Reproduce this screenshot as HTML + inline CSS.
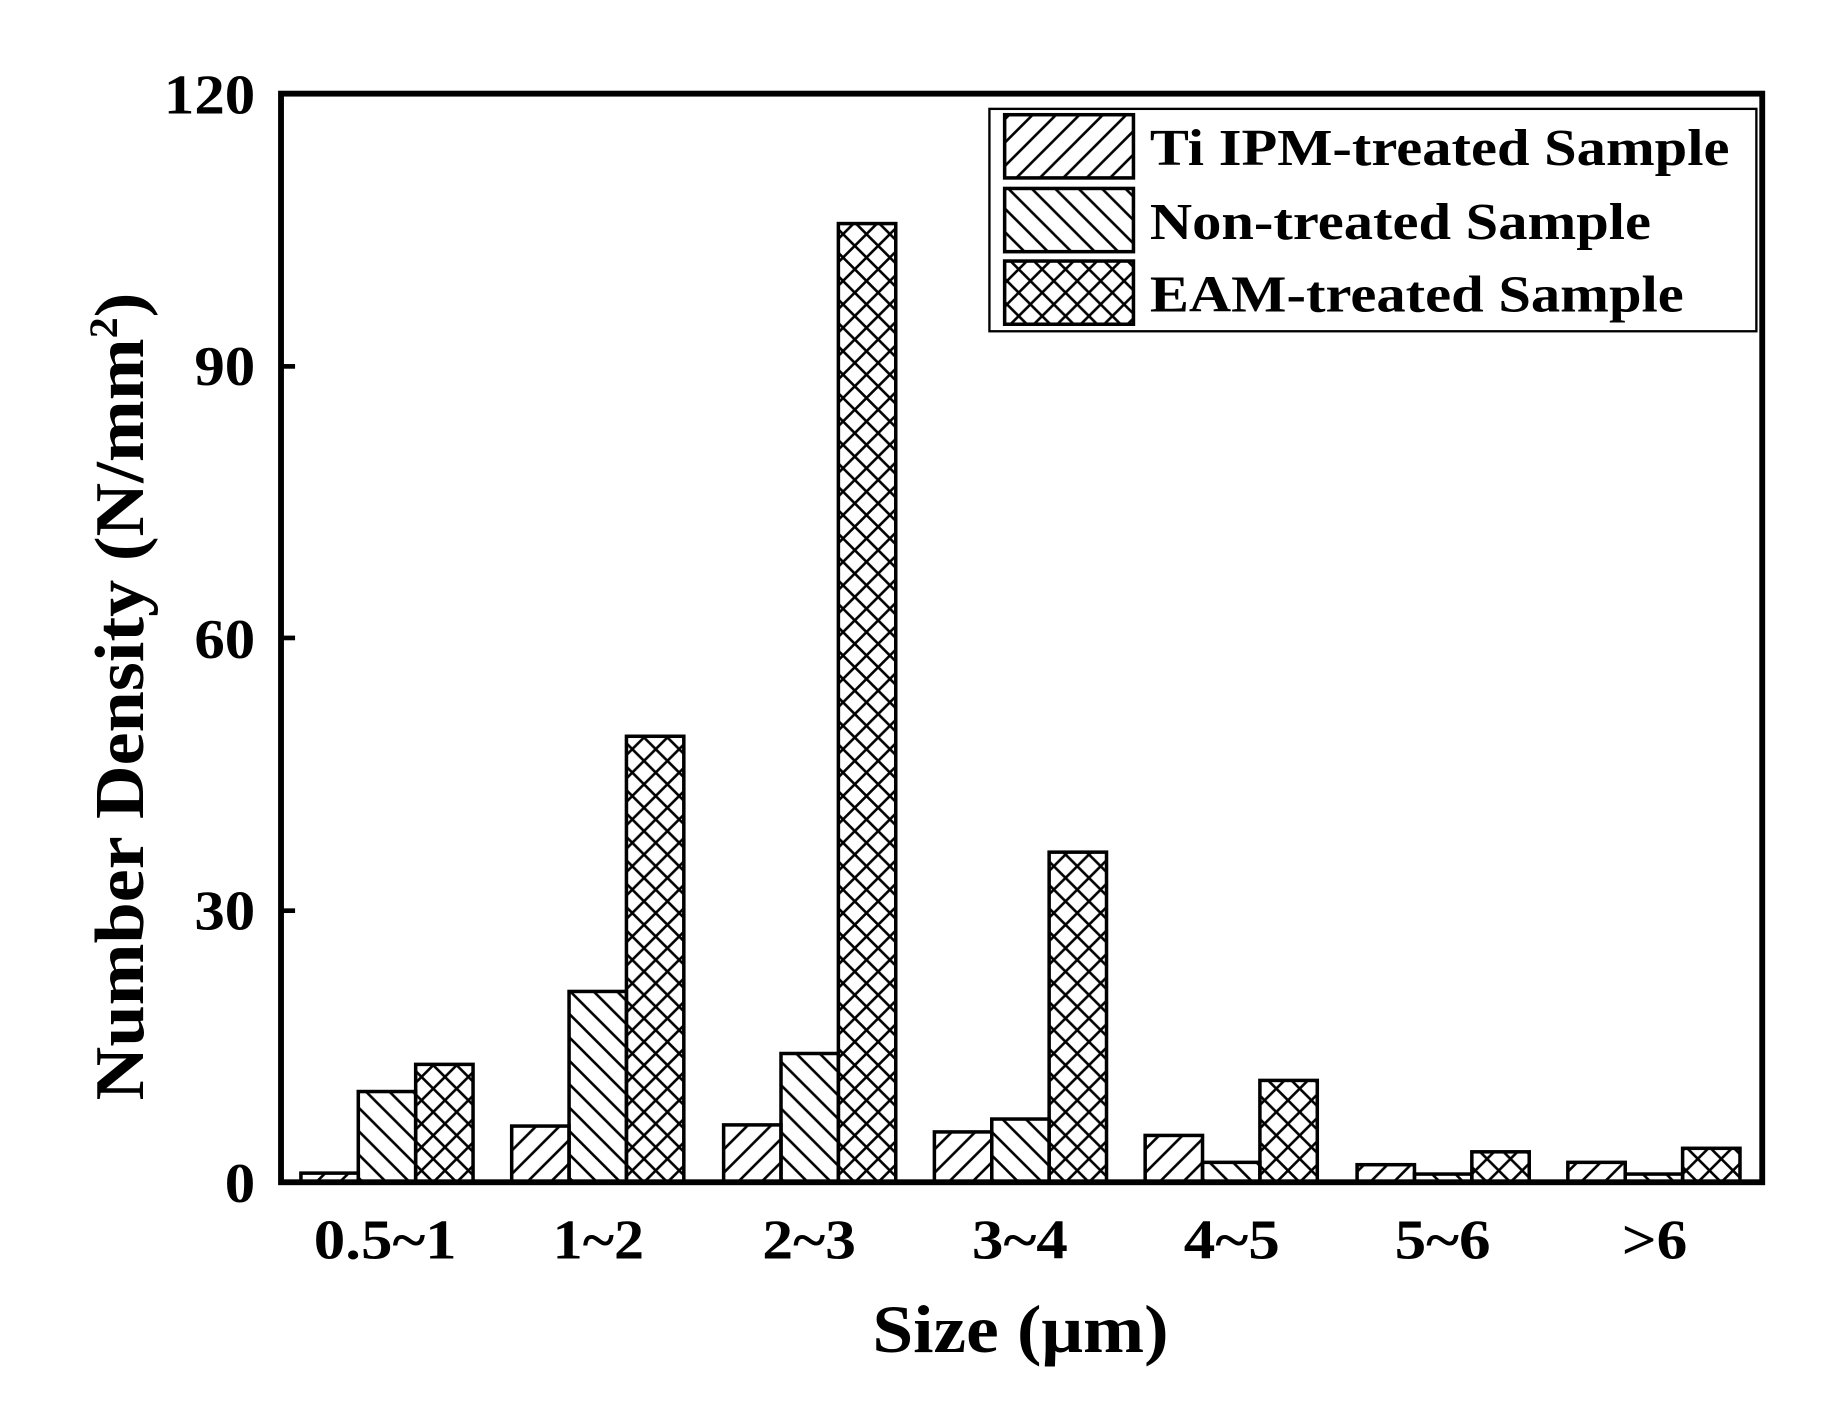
<!DOCTYPE html>
<html><head><meta charset="utf-8"><style>html,body{margin:0;padding:0;background:#fff}svg{display:block}</style></head><body>
<svg width="1836" height="1407" viewBox="0 0 1568 1202" preserveAspectRatio="none" xmlns="http://www.w3.org/2000/svg" font-family="Liberation Serif, serif" font-weight="bold">
<defs>
<pattern id="p1" patternUnits="userSpaceOnUse" width="20" height="20"><path d="M-5,5 L5,-5 M0,20 L20,0 M15,25 L25,15" stroke="#000" stroke-width="2.2"/></pattern>
<pattern id="p2" patternUnits="userSpaceOnUse" width="20" height="20"><path d="M-5,15 L5,25 M0,0 L20,20 M15,-5 L25,5" stroke="#000" stroke-width="2.2"/></pattern>
<pattern id="p3" patternUnits="userSpaceOnUse" width="20" height="20"><path d="M-5,5 L5,-5 M0,20 L20,0 M15,25 L25,15 M-5,15 L5,25 M0,0 L20,20 M15,-5 L25,5" stroke="#000" stroke-width="2.2"/></pattern>
</defs>
<rect width="1568" height="1202" fill="#fff"/>
<g stroke="#000" stroke-width="3">
<rect x="257" y="1002.2" width="49" height="7.8" fill="url(#p1)"/>
<rect x="306" y="932.5" width="49" height="77.5" fill="url(#p2)"/>
<rect x="355" y="909.3" width="49" height="100.7" fill="url(#p3)"/>

<rect x="437" y="962" width="49" height="48" fill="url(#p1)"/>
<rect x="486" y="847" width="49" height="163" fill="url(#p2)"/>
<rect x="535" y="629" width="49" height="381" fill="url(#p3)"/>

<rect x="618" y="961" width="49" height="49" fill="url(#p1)"/>
<rect x="667" y="900" width="49" height="110" fill="url(#p2)"/>
<rect x="716" y="191" width="49" height="819" fill="url(#p3)"/>

<rect x="798" y="967" width="49" height="43" fill="url(#p1)"/>
<rect x="847" y="956" width="49" height="54" fill="url(#p2)"/>
<rect x="896" y="728" width="49" height="282" fill="url(#p3)"/>

<rect x="978" y="970" width="49" height="40" fill="url(#p1)"/>
<rect x="1027" y="993" width="49" height="17" fill="url(#p2)"/>
<rect x="1076" y="923" width="49" height="87" fill="url(#p3)"/>

<rect x="1159" y="995" width="49" height="15" fill="url(#p1)"/>
<rect x="1208" y="1003" width="49" height="7" fill="url(#p2)"/>
<rect x="1257" y="984" width="49" height="26" fill="url(#p3)"/>

<rect x="1339" y="993" width="49" height="17" fill="url(#p1)"/>
<rect x="1388" y="1003" width="49" height="7" fill="url(#p2)"/>
<rect x="1437" y="981" width="49" height="29" fill="url(#p3)"/>
</g>
<rect x="240" y="80" width="1265" height="930" fill="none" stroke="#000" stroke-width="5"/>
<g stroke="#000" stroke-width="4">
<line x1="240" y1="313" x2="252" y2="313"/><line x1="240" y1="545" x2="252" y2="545"/><line x1="240" y1="778" x2="252" y2="778"/>
</g>
<g font-size="48" text-anchor="end">
<text x="218" y="97" textLength="78" lengthAdjust="spacingAndGlyphs">120</text><text x="218" y="329" textLength="52" lengthAdjust="spacingAndGlyphs">90</text><text x="218" y="562" textLength="52" lengthAdjust="spacingAndGlyphs">60</text><text x="218" y="794" textLength="52" lengthAdjust="spacingAndGlyphs">30</text><text x="218" y="1027" textLength="26" lengthAdjust="spacingAndGlyphs">0</text>
</g>
<g font-size="48">
<text x="268" y="1075" textLength="122" lengthAdjust="spacingAndGlyphs">0.5~1</text>
<text x="472" y="1075" textLength="78" lengthAdjust="spacingAndGlyphs">1~2</text>
<text x="651" y="1075" textLength="80" lengthAdjust="spacingAndGlyphs">2~3</text>
<text x="830" y="1075" textLength="82" lengthAdjust="spacingAndGlyphs">3~4</text>
<text x="1011" y="1075" textLength="82" lengthAdjust="spacingAndGlyphs">4~5</text>
<text x="1191" y="1075" textLength="82" lengthAdjust="spacingAndGlyphs">5~6</text>
<text x="1385" y="1075" textLength="56" lengthAdjust="spacingAndGlyphs">&gt;6</text>
</g>
<text x="745" y="1155" font-size="58" textLength="253" lengthAdjust="spacingAndGlyphs">Size (μm)</text>
<text transform="translate(122,940) rotate(-90)" font-size="60" textLength="690" lengthAdjust="spacingAndGlyphs">Number Density (N/mm<tspan dy="-22" font-size="34">2</tspan><tspan dy="22">)</tspan></text>
<rect x="845" y="93" width="655" height="190" fill="#fff" stroke="#000" stroke-width="2"/>
<g stroke="#000" stroke-width="3">
<rect x="858" y="98" width="110" height="54" fill="url(#p1)"/>
<rect x="858" y="161" width="110" height="54" fill="url(#p2)"/>
<rect x="858" y="223" width="110" height="54" fill="url(#p3)"/>
</g>
<g font-size="44">
<text x="982" y="141" textLength="495" lengthAdjust="spacingAndGlyphs">Ti IPM-treated Sample</text>
<text x="982" y="204" textLength="428" lengthAdjust="spacingAndGlyphs">Non-treated Sample</text>
<text x="982" y="266" textLength="456" lengthAdjust="spacingAndGlyphs">EAM-treated Sample</text>
</g>
</svg>
</body></html>
